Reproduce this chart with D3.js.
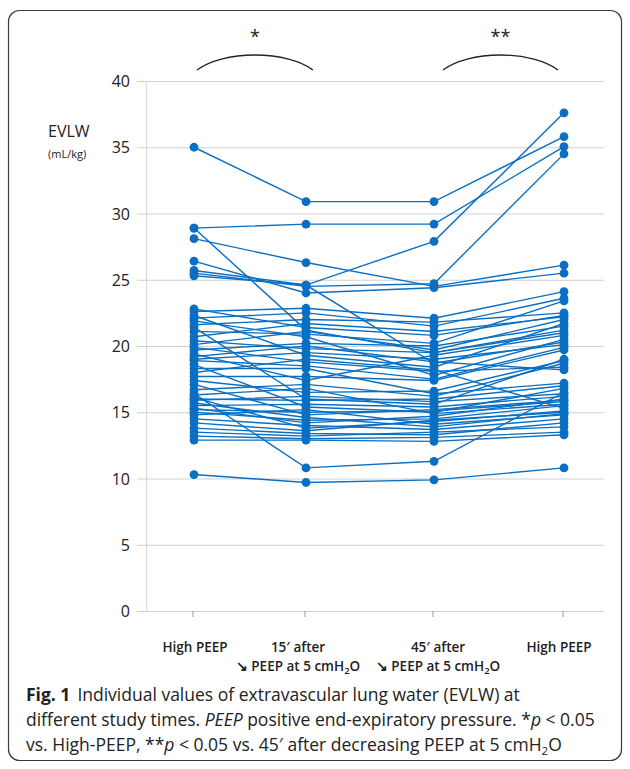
<!DOCTYPE html>
<html><head><meta charset="utf-8">
<script src="https://cdn.jsdelivr.net/npm/d3@7"></script>
<style>
body{margin:0;background:#fff;}
svg{display:block;}
</style></head>
<body>
<script>
// ---- data ----
const categories = ["High PEEP", "15′ after", "45′ after", "High PEEP"];
const secondLines = ["", "↘ PEEP at 5 cmH2O", "↘ PEEP at 5 cmH2O", ""];
const yTicks = [0, 5, 10, 15, 20, 25, 30, 35, 40];
const significance = [
  {from: 0, to: 1, label: "*"},
  {from: 2, to: 3, label: "**"}
];
// EVLW (mL/kg), one entry per patient in each array
const highPeepBefore = [35.0, 28.9, 28.1, 25.7, 25.5, 26.4, 28.9, 25.3, 10.3, 16.4,
  22.8, 22.6, 22.3, 22.1, 21.9, 21.6, 21.4, 21.1, 20.7, 20.4,
  20.1, 19.9, 19.7, 19.4, 19.2, 19.0, 18.9, 18.6, 18.3, 18.0,
  17.7, 17.4, 17.1, 16.7, 16.3, 16.1, 16.0, 15.9, 15.7, 15.5,
  15.3, 15.2, 15.0, 14.8, 14.5, 14.2, 13.8, 13.5, 13.2, 12.9];
const after15 = [30.9, 29.2, 26.3, 24.6, 24.5, 24.0, 21.2, 24.6, 9.7, 10.8,
  21.4, 22.85, 19.3, 22.5, 20.7, 22.0, 16.0, 20.9, 21.7, 19.8,
  21.1, 18.8, 20.2, 17.4, 20.0, 19.5, 18.5, 15.4, 18.3, 19.0,
  17.7, 16.5, 14.8, 17.1, 16.8, 13.8, 15.9, 16.2, 14.6, 15.6,
  14.2, 15.0, 14.4, 15.2, 14.0, 13.6, 13.4, 13.2, 13.0, 12.9];
const after45 = [30.9, 29.2, 24.5, 27.9, 24.7, 24.4, 19.5, 18.7, 9.9, 11.3,
  20.8, 22.1, 18.4, 21.5, 17.8, 21.8, 15.6, 20.2, 21.1, 19.5,
  19.7, 18.1, 20.0, 19.3, 18.8, 19.0, 17.5, 15.0, 16.4, 18.2,
  17.4, 16.6, 15.2, 16.2, 14.9, 14.3, 16.0, 15.8, 13.9, 15.4,
  14.7, 15.1, 14.5, 14.1, 13.7, 14.4, 13.3, 13.5, 13.1, 12.8];
const highPeepAfter = [35.8, 35.05, 26.1, 37.6, 34.5, 25.5, 21.0, 20.3, 10.8, 16.5,
  22.3, 24.1, 21.7, 23.6, 20.5, 22.5, 19.0, 23.4, 22.2, 21.2,
  22.0, 18.4, 21.5, 20.8, 18.2, 20.1, 19.9, 16.8, 17.2, 15.3,
  19.7, 18.9, 15.9, 18.7, 15.6, 15.1, 17.0, 16.4, 14.9, 16.2,
  16.0, 15.8, 15.5, 14.8, 14.5, 15.0, 14.2, 13.9, 13.5, 13.3];

const patients = highPeepBefore.map((v, i) => [v, after15[i], after45[i], highPeepAfter[i]]);

// ---- layout ----
const W = 630, H = 769;
const blue = "#0a6fc2";
const svg = d3.select("body").append("svg").attr("width", W).attr("height", H);

svg.append("rect").attr("x", 8.5).attr("y", 10.5).attr("width", 613).attr("height", 750)
  .attr("rx", 11).attr("fill", "none").attr("stroke", "#3a3a3a").attr("stroke-width", 1.2);

const y = d3.scaleLinear().domain([0, 40]).range([611, 81]);
const x = d3.scaleOrdinal().domain(d3.range(categories.length)).range([194, 306, 434, 564]);
const labelX = d3.scaleOrdinal().domain(d3.range(categories.length)).range([195, 298, 438, 559]);
const gridLeft = 137, gridRight = 604;

// gridlines
svg.append("g").selectAll("line").data(yTicks).join("line")
  .attr("x1", gridLeft).attr("x2", gridRight)
  .attr("y1", d => y(d) + 0.5).attr("y2", d => y(d) + 0.5)
  .attr("stroke", "#cfcfcf").attr("stroke-width", 1.2);
// vertical axis line
svg.append("line").attr("x1", 146.5).attr("x2", 146.5).attr("y1", y(40)).attr("y2", y(0))
  .attr("stroke", "#d9d9d9").attr("stroke-width", 1.2);
// x ticks
svg.append("g").selectAll("line").data(d3.range(categories.length)).join("line")
  .attr("x1", d => x(d) - 1).attr("x2", d => x(d) - 1)
  .attr("y1", y(0)).attr("y2", y(0) + 6)
  .attr("stroke", "#9a9a9a").attr("stroke-width", 1);

// y tick labels
svg.append("g").selectAll("text").data(yTicks).join("text")
  .attr("x", 130).attr("y", d => y(d) + 6)
  .attr("text-anchor", "end")
  .attr("font-family", "Open Sans, sans-serif").attr("font-size", 16)
  .attr("fill", "#222").text(d => d);

// y title
svg.append("text").attr("x", 48).attr("y", 137)
  .attr("font-family", "Open Sans, sans-serif").attr("font-size", 16).attr("fill", "#222").text("EVLW");
svg.append("text").attr("x", 48).attr("y", 158)
  .attr("font-family", "Open Sans, sans-serif").attr("font-size", 11).attr("fill", "#222").text("(mL/kg)");

// x labels
const xl = svg.append("g").attr("font-family", "Open Sans, sans-serif").attr("font-size", 13.5)
  .attr("font-weight", 600).attr("fill", "#222").attr("text-anchor", "middle");
xl.selectAll("text.l1").data(categories).join("text").attr("class", "l1")
  .attr("x", (d, i) => labelX(i)).attr("y", 652).text(d => d);
secondLines.forEach((s, i) => {
  if (!s) return;
  const parts = s.split("H2O");
  const t = xl.append("text").attr("x", labelX(i)).attr("y", 671);
  t.append("tspan").text(parts[0] + "H");
  t.append("tspan").attr("font-size", 9.5).attr("dy", 3).text("2");
  t.append("tspan").attr("dy", -3).text("O");
});

// significance brackets (elliptical arcs)
const sig = svg.append("g");
const bracketEnds = [[x(0) + 3, x(1) + 7], [x(2) + 9, x(3) - 6]];
significance.forEach((s, k) => {
  const [x0, x1] = bracketEnds[k];
  const h = (x1 - x0) / 2, rx = h * 1.15, rise = 15;
  const ry = rise / (1 - Math.sqrt(1 - (h / rx) ** 2));
  sig.append("path")
    .attr("d", `M${x0},70 A ${rx} ${ry} 0 0 1 ${x1},70`)
    .attr("fill", "none").attr("stroke", "#222").attr("stroke-width", 1.3);
  sig.append("text").attr("x", (x0 + x1) / 2).attr("y", 43)
    .attr("text-anchor", "middle").attr("font-family", "Open Sans, sans-serif")
    .attr("font-size", 18).attr("fill", "#222").text(s.label);
});

// lines
const line = d3.line().x((d, i) => x(i)).y(d => y(d));
svg.append("g").selectAll("path").data(patients).join("path")
  .attr("d", line).attr("fill", "none").attr("stroke", blue).attr("stroke-width", 1.4);
// dots
svg.append("g").selectAll("g").data(patients).join("g")
  .selectAll("circle").data(d => d).join("circle")
  .attr("cx", (d, i) => x(i)).attr("cy", d => y(d)).attr("r", 4.4).attr("fill", blue);

// caption
const cap = svg.append("g").attr("font-family", "Open Sans, sans-serif").attr("font-size", 17.5).attr("fill", "#222");
const c1 = cap.append("text").attr("x", 26).attr("y", 701);
c1.append("tspan").attr("font-weight", 700).text("Fig. 1");
c1.append("tspan").attr("dx", 7).text("Individual values of extravascular lung water (EVLW) at");
const c2 = cap.append("text").attr("x", 26).attr("y", 726);
c2.append("tspan").text("different study times. ");
c2.append("tspan").attr("font-style", "italic").text("PEEP");
c2.append("tspan").text(" positive end-expiratory pressure. *");
c2.append("tspan").attr("font-style", "italic").text("p");
c2.append("tspan").text(" < 0.05");
const c3 = cap.append("text").attr("x", 26).attr("y", 751);
c3.append("tspan").text("vs. High-PEEP, **");
c3.append("tspan").attr("font-style", "italic").text("p");
c3.append("tspan").text(" < 0.05 vs. 45′ after decreasing PEEP at 5 cmH");
c3.append("tspan").attr("font-size", 11.5).attr("dy", 4).text("2");
c3.append("tspan").attr("dy", -4).text("O");
</script>
</body></html>
